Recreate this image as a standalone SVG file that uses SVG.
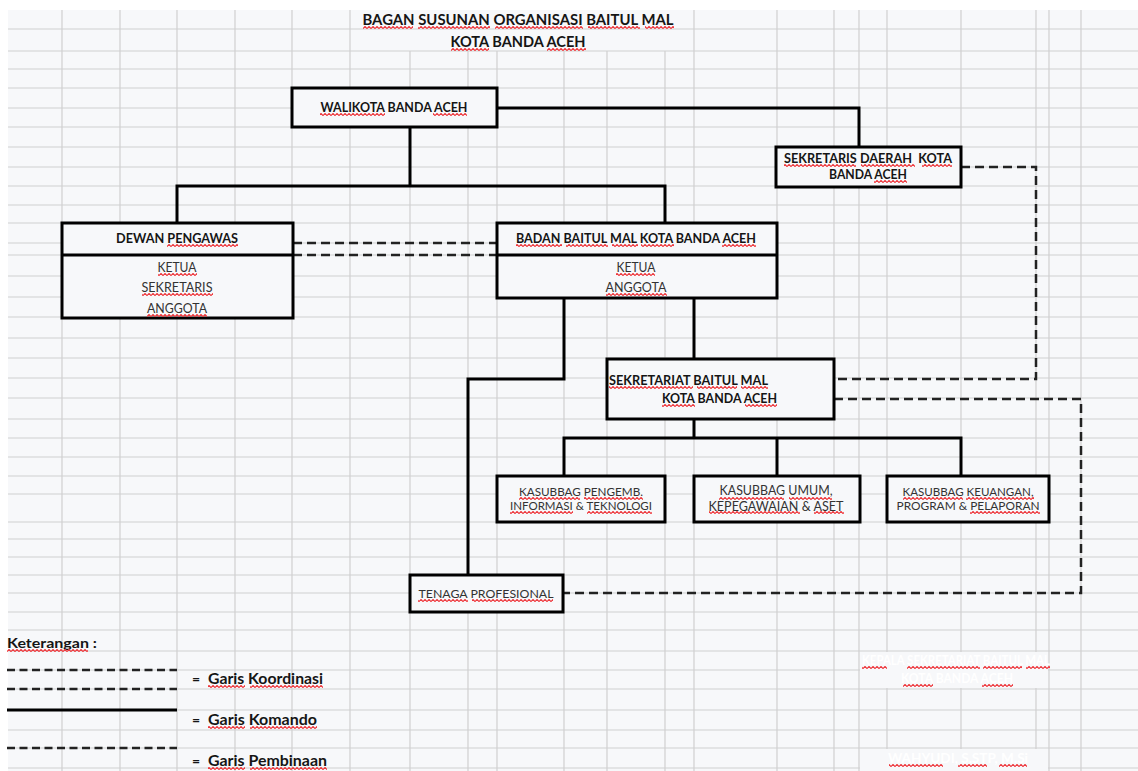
<svg xmlns="http://www.w3.org/2000/svg" width="1138" height="771" viewBox="0 0 1138 771">
<defs>
<pattern id="wv" width="4" height="3" patternUnits="userSpaceOnUse"><path d="M-1 2.6L1 0.4L3 2.6L5 0.4" fill="none" stroke="#ee3a3f" stroke-width="1.15"/></pattern>
</defs>
<style>
.bg{fill:#f7f8fa}
.grid{stroke:#d0d0d0;stroke-width:1.2;fill:none}
.box{fill:#f7f8fa;stroke:#000;stroke-width:3}
.cmd{stroke:#000;stroke-width:3;fill:none}
.dash{stroke:#222;stroke-width:2.5;fill:none;stroke-dasharray:9 5}
text{font-family:Lato,"Noto Sans","Liberation Sans",sans-serif;fill:#151515}
.b{font-weight:bold}
.r{font-weight:normal;fill:#333}
.m{text-anchor:middle}
.w{fill:#ffffff}
.sq rect{fill:url(#wv)}
</style>
<rect class="bg" x="8" y="10" width="1130" height="761"/>
<g id="grid" class="grid">
<path d="M8 29H1138M8 51H1138M8 69H1138M8 88H1138M8 108H1138M8 127H1138M8 147H1138M8 167H1138M8 186H1138M8 205H1138M8 223H1138M8 243H1138M8 255H1138M8 276H1138M8 297H1138M8 317H1138M8 338H1138M8 358H1138M8 378H1138M8 398H1138M8 419H1138M8 438H1138M8 457H1138M8 476H1138M8 494H1138M8 522H1138M8 539H1138M8 557H1138M8 575H1138M8 593H1138M8 612H1138M8 630H1138M8 651H1138M8 670H1138M8 689H1138M8 710H1138M8 730H1138M8 748H1138M8 768H1138"/>
<path d="M62 10V771M120 10V771M177 10V771M235 10V771M292 10V771M350 10V771M410 51V771M468 51V771M497 51V771M564 51V771M607 51V771M665 51V771M694 10V771M777 10V771M834 10V771M859 10V771M887 10V771M961 10V771M1036 10V771M1049 10V771M1081 10V771"/>
</g>
<rect class="bg" x="860" y="652" width="188" height="36"/>
<rect class="bg" x="860" y="749" width="188" height="22"/>
<g id="title">
<text class="b m" x="518" y="25" font-size="16" textLength="311" lengthAdjust="spacingAndGlyphs">BAGAN SUSUNAN ORGANISASI BAITUL MAL</text>
<text class="b m" x="518" y="47" font-size="16" textLength="135" lengthAdjust="spacingAndGlyphs">KOTA BANDA ACEH</text>
</g>
<g id="connectors">
<path class="cmd" d="M497 108H859V147"/>
<path class="cmd" d="M410 127V186M177 223V186H665V223"/>
<path class="cmd" d="M564 298V379H468V575"/>
<path class="cmd" d="M694 298V359"/>
<path class="cmd" d="M694 419V438M564 476V438H961V476M777 438V476"/>
<path class="dash" d="M293 243H497M293 255H497"/>
<path class="dash" d="M961 167H1036V379H834"/>
<path class="dash" d="M834 399H1081V593H563"/>
</g>
<g id="walikota">
<rect class="box" x="292" y="88" width="205" height="39"/>
<text class="b m" x="394" y="112" font-size="13.5" textLength="147" lengthAdjust="spacingAndGlyphs">WALIKOTA BANDA ACEH</text>
</g>
<g id="sekda">
<rect class="box" x="776" y="147" width="185" height="40"/>
<text class="b m" x="868" y="163" font-size="13" textLength="168" lengthAdjust="spacingAndGlyphs" style="white-space:pre">SEKRETARIS DAERAH  KOTA</text>
<text class="b m" x="868" y="179" font-size="13" textLength="78" lengthAdjust="spacingAndGlyphs">BANDA ACEH</text>
</g>
<g id="dewan">
<rect class="box" x="62" y="223" width="231" height="95"/>
<path class="cmd" d="M62 255H293"/>
<text class="b m" x="177" y="243" font-size="13" textLength="122" lengthAdjust="spacingAndGlyphs">DEWAN PENGAWAS</text>
<text class="r m" x="177" y="272" font-size="12.5" textLength="39" lengthAdjust="spacingAndGlyphs">KETUA</text>
<text class="r m" x="177" y="292" font-size="12.5" textLength="71" lengthAdjust="spacingAndGlyphs">SEKRETARIS</text>
<text class="r m" x="177" y="313" font-size="12.5" textLength="60" lengthAdjust="spacingAndGlyphs">ANGGOTA</text>
</g>
<g id="badan">
<rect class="box" x="497" y="223" width="280" height="75"/>
<path class="cmd" d="M497 255H777"/>
<text class="b m" x="636" y="243" font-size="13" textLength="240" lengthAdjust="spacingAndGlyphs">BADAN BAITUL MAL KOTA BANDA ACEH</text>
<text class="r m" x="636" y="272" font-size="12.5" textLength="39" lengthAdjust="spacingAndGlyphs">KETUA</text>
<text class="r m" x="636" y="292" font-size="12.5" textLength="61" lengthAdjust="spacingAndGlyphs">ANGGOTA</text>
</g>
<g id="sekretariat">
<rect class="box" x="607" y="359" width="227" height="60"/>
<text class="b" x="609" y="385" font-size="13" textLength="159" lengthAdjust="spacingAndGlyphs">SEKRETARIAT BAITUL MAL</text>
<text class="b" x="662" y="403" font-size="13" textLength="115" lengthAdjust="spacingAndGlyphs">KOTA BANDA ACEH</text>
</g>
<g id="kasubbag1">
<rect class="box" x="497" y="476" width="168" height="46"/>
<text class="r m" x="581" y="496" font-size="11.5" textLength="124" lengthAdjust="spacingAndGlyphs">KASUBBAG PENGEMB.</text>
<text class="r m" x="581" y="510" font-size="11.5" textLength="142" lengthAdjust="spacingAndGlyphs">INFORMASI &amp; TEKNOLOGI</text>
</g>
<g id="kasubbag2">
<rect class="box" x="694" y="476" width="166" height="46"/>
<text class="r m" x="776" y="495" font-size="12.5" textLength="113" lengthAdjust="spacingAndGlyphs">KASUBBAG UMUM,</text>
<text class="r m" x="776" y="511" font-size="12.5" textLength="135" lengthAdjust="spacingAndGlyphs">KEPEGAWAIAN &amp; ASET</text>
</g>
<g id="kasubbag3">
<rect class="box" x="887" y="476" width="162" height="46"/>
<text class="r m" x="968" y="496" font-size="11.5" textLength="131" lengthAdjust="spacingAndGlyphs">KASUBBAG KEUANGAN,</text>
<text class="r m" x="968" y="510" font-size="11.5" textLength="143" lengthAdjust="spacingAndGlyphs">PROGRAM &amp; PELAPORAN</text>
</g>
<g id="tenaga">
<rect class="box" x="410" y="575" width="153" height="37"/>
<text class="r m" x="486" y="598" font-size="12" textLength="135" lengthAdjust="spacingAndGlyphs">TENAGA PROFESIONAL</text>
</g>
<g id="legend">
<text class="b" x="7" y="648" font-size="14" textLength="90" lengthAdjust="spacingAndGlyphs">Keterangan :</text>
<path class="dash" d="M7 670H177M7 689H177M7 748H177" style="stroke-dasharray:8 4.5"/>
<path class="cmd" d="M7 710H177"/>
<text class="b" x="192" y="684" font-size="14">=</text>
<text class="b" x="208" y="684" font-size="14.5" textLength="115" lengthAdjust="spacingAndGlyphs">Garis Koordinasi</text>
<text class="b" x="192" y="725" font-size="14">=</text>
<text class="b" x="208" y="725" font-size="14.5" textLength="109" lengthAdjust="spacingAndGlyphs">Garis Komando</text>
<text class="b" x="192" y="766" font-size="14">=</text>
<text class="b" x="208" y="766" font-size="14.5" textLength="119" lengthAdjust="spacingAndGlyphs">Garis Pembinaan</text>
</g>
<g id="signature">
<text class="b w m" x="956" y="665" font-size="13" textLength="188" lengthAdjust="spacingAndGlyphs">KEPALA SEKRETARIAT BAITUL MAL</text>
<text class="b w m" x="957" y="683" font-size="13" textLength="112" lengthAdjust="spacingAndGlyphs">KOTA BANDA ACEH</text>
<text class="b w m" x="958" y="763" font-size="13" textLength="140" lengthAdjust="spacingAndGlyphs">WAHYUDI, S.STP, M.Si</text>
</g>
<g id="spellcheck" class="sq">
<g transform="translate(0,26)"><rect x="363" width="50" height="3"/><rect x="418" width="72" height="3"/><rect x="495" width="88" height="3"/><rect x="588" width="52" height="3"/><rect x="645" width="29" height="3"/></g>
<g transform="translate(0,48)"><rect x="451" width="38" height="3"/><rect x="547" width="39" height="3"/></g>
<g transform="translate(0,113)"><rect x="320" width="65" height="3"/><rect x="433" width="34" height="3"/></g>
<g transform="translate(0,164)"><rect x="784" width="72" height="3"/><rect x="861" width="54" height="3"/><rect x="922" width="30" height="3"/></g>
<g transform="translate(0,180)"><rect x="874" width="33" height="3"/></g>
<g transform="translate(0,244)"><rect x="167" width="71" height="3"/><rect x="516" width="46" height="3"/><rect x="566" width="42" height="3"/><rect x="612" width="26" height="3"/><rect x="641" width="33" height="3"/><rect x="722" width="34" height="3"/></g>
<g transform="translate(0,273)"><rect x="158" width="39" height="3"/><rect x="616" width="39" height="3"/></g>
<g transform="translate(0,293)"><rect x="142" width="71" height="3"/><rect x="606" width="61" height="3"/></g>
<g transform="translate(0,314)"><rect x="147" width="60" height="3"/></g>
<g transform="translate(0,386)"><rect x="609" width="84" height="3"/><rect x="697" width="40" height="3"/><rect x="741" width="27" height="3"/></g>
<g transform="translate(0,404)"><rect x="662" width="33" height="3"/><rect x="745" width="32" height="3"/></g>
<g transform="translate(0,497)"><rect x="519" width="61" height="3"/><rect x="584" width="59" height="3"/><rect x="719" width="65" height="3"/><rect x="789" width="43" height="3"/><rect x="903" width="60" height="3"/><rect x="966" width="68" height="3"/></g>
<g transform="translate(0,511)"><rect x="510" width="63" height="3"/><rect x="587" width="65" height="3"/><rect x="709" width="91" height="3"/><rect x="814" width="30" height="3"/><rect x="970" width="70" height="3"/></g>
<g transform="translate(0,599)"><rect x="418" width="50" height="3"/><rect x="472" width="81" height="3"/></g>
<g transform="translate(0,649)"><rect x="7" width="81" height="3"/></g>
<g transform="translate(0,666)"><rect x="862" width="25" height="3"/><rect x="907" width="73" height="3"/><rect x="983" width="39" height="3"/><rect x="1026" width="24" height="3"/></g>
<g transform="translate(0,684)"><rect x="903" width="30" height="3"/><rect x="982" width="31" height="3"/></g>
<g transform="translate(0,685)"><rect x="208" width="37" height="3"/><rect x="250" width="73" height="3"/></g>
<g transform="translate(0,726)"><rect x="208" width="37" height="3"/><rect x="250" width="67" height="3"/></g>
<g transform="translate(0,764)"><rect x="889" width="54" height="3"/><rect x="958" width="29" height="3"/><rect x="999" width="28" height="3"/></g>
<g transform="translate(0,767)"><rect x="208" width="37" height="3"/><rect x="250" width="77" height="3"/></g>
</g>
</svg>
